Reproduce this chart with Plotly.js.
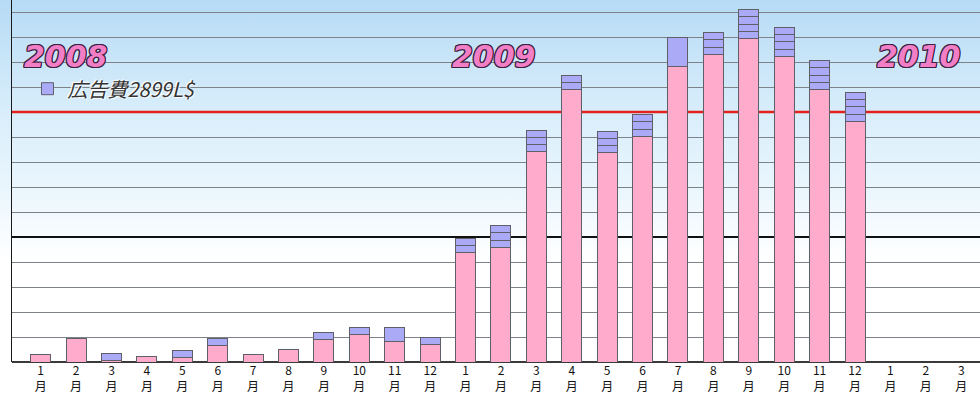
<!DOCTYPE html>
<html>
<head>
<meta charset="utf-8">
<script src="https://cdn.plot.ly/plotly-3.0.1.min.js"></script>
<style>
  html, body { margin: 0; padding: 0; background: #ffffff; }
  #chart {
    width: 980px; height: 400px;
    background: linear-gradient(to bottom, #b6dbf5 0px, #c9e5f8 60px, #d9eefb 115px, #eaf6fd 190px, #f8fcff 235px, #ffffff 262px);
  }
</style>
</head>
<body>
<div id="chart"></div>
<script>
// ---- data ----
const monthNumbers = ["1","2","3","4","5","6","7","8","9","10","11","12",
                      "1","2","3","4","5","6","7","8","9","10","11","12",
                      "1","2","3"];
const monthSuffix = "月";
const yearLabels = ["2008", "2009", "2010"];
const yearLabelPositions = [0.71, 12.8, 24.82];   // category index of label centre
// pink part (L$)
const salesValues = [3000, 9500, 500, 2100, 1700, 6700, 2900, 4900, 9100, 11100, 8200, 7100,
                     43700, 45900, 84100, 109000, 83700, 90300, 118200, 123100, 129400, 122300, 109000, 96300,
                     null, null, null];
// advertising blocks per month (each unit = one ad of 2899 L$)
const adUnitCost = 2899;
const adBlocks = [[], [], [1], [], [1], [1], [], [], [1], [1], [2], [1],
                  [1,1], [1,1,1], [1,1,1], [1,1], [1,1,1], [1,1,1], [4], [1,1,1], [1,1,1,1], [1,1,1,1], [1,1,1,1], [1,1,1,1],
                  [], [], []];
const adLegendName = "広告費2899L$";
const targetLine = 100000;
const midLine = 50000;
const gridValues = [10000, 20000, 30000, 40000, 60000, 70000, 80000, 90000, 110000, 120000, 130000, 140000];

// ---- build traces ----
const idx = monthNumbers.map((_, i) => i);
const pink = "#ffabcb", blue = "#aaaaf6", edge = "#5f5f6a";
const traces = [{
  type: "bar", x: idx, y: salesValues, width: 0.565,
  marker: { color: pink, line: { color: edge, width: 1 } },
  showlegend: false, hoverinfo: "skip"
}];
const maxBlocks = Math.max(...adBlocks.map(b => b.length));
for (let k = 0; k < maxBlocks; k++) {
  traces.push({
    type: "bar", x: idx,
    y: adBlocks.map(b => (b[k] ? b[k] * adUnitCost : null)),
    width: 0.565, name: adLegendName,
    marker: { color: blue, line: { color: edge, width: 1 } },
    showlegend: k === 0, hoverinfo: "skip"
  });
}

const xRange = [-0.81, 26.53];
const layout = {
  width: 980, height: 400,
  margin: { l: 12, r: 0, t: 0, b: 38 },
  paper_bgcolor: "rgba(0,0,0,0)", plot_bgcolor: "rgba(0,0,0,0)",
  barmode: "stack", bargap: 0.4,
  showlegend: true,
  xaxis: {
    range: xRange, tickmode: "array", tickvals: idx,
    ticktext: monthNumbers.map(m => m + "<br>" + monthSuffix),
    showgrid: false, zeroline: false, showline: false, ticks: "",
    tickfont: { family: "Noto Sans CJK JP", size: 12, color: "#111" },
    ticklabelstandoff: 0
  },
  yaxis: {
    range: [0, 144800], tickmode: "array", tickvals: gridValues, showticklabels: false, ticks: "",
    showgrid: true, gridcolor: "#7d8388", gridwidth: 1,
    zeroline: true, zerolinecolor: "#3a3a3a", zerolinewidth: 1.5,
    showline: true, linecolor: "#1a1a1a", linewidth: 1
  },
  legend: {
    x: 0.016, xanchor: "left", y: 0.755, yanchor: "middle",
    bgcolor: "rgba(0,0,0,0)", borderwidth: 0,
    font: { family: "Noto Sans CJK JP", size: 20, color: "#333", style: "italic",
            shadow: "1px 1px 1px #ffffff, -1px -1px 1px #ffffff" }
  },
  shapes: [
    { type: "line", xref: "paper", x0: 0, x1: 1, yref: "y", y0: targetLine, y1: targetLine,
      line: { color: "#e3221d", width: 2.5 }, layer: "between" },
    { type: "line", xref: "paper", x0: 0, x1: 1, yref: "y", y0: midLine, y1: midLine,
      line: { color: "#111111", width: 2 }, layer: "between" }
  ],
  annotations: yearLabels.map((t, i) => ({
    text: t, x: yearLabelPositions[i], y: 122200, xref: "x", yref: "y",
    showarrow: false, xanchor: "center", yanchor: "middle",
    font: { family: "DejaVu Sans", size: 30, weight: 900, style: "italic", color: "#f27fc6",
            shadow: "-1px -1px 0 #3b2040, 1px -1px 0 #3b2040, -1px 1px 0 #3b2040, 1px 1px 0 #3b2040, 0 1px 0 #3b2040, 0 -1px 0 #3b2040, 1px 0 0 #3b2040, -1px 0 0 #3b2040" }
  }))
};

Plotly.newPlot("chart", traces, layout, { staticPlot: true, displayModeBar: false });
</script>
</body>
</html>
